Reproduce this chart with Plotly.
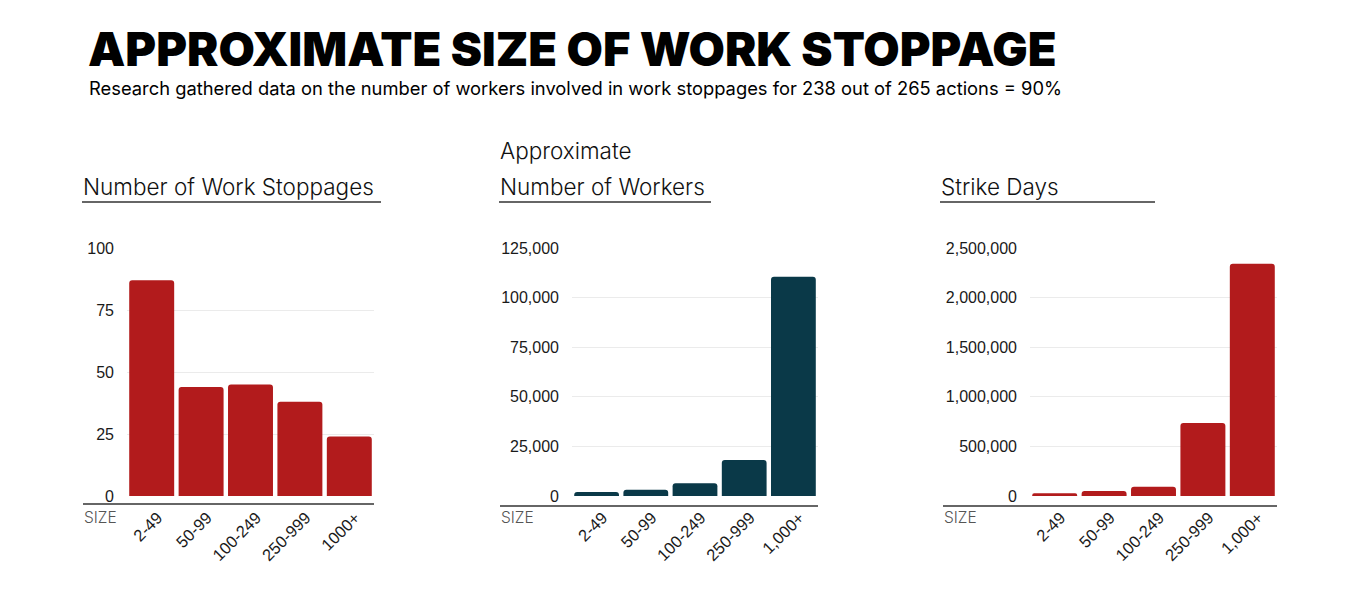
import plotly.graph_objects as go

W, H = 1360, 593

sizes_a = ["2-49", "50-99", "100-249", "250-999", "1000+"]
sizes_b = ["2-49", "50-99", "100-249", "250-999", "1,000+"]
stoppages = [87, 44, 45, 38, 24]
workers = [2000, 3200, 6400, 18200, 110500]
strike_days = [28000, 50000, 94000, 736000, 2341000]

title = "APPROXIMATE SIZE OF WORK STOPPAGE"
subtitle = "Research gathered data on the number of workers involved in work stoppages for 238 out of 265 actions = 90%"
panel_titles = [["Number of Work Stoppages"], ["Approximate", "Number of Workers"], ["Strike Days"]]

RED = "#b21b1c"
TEAL = "#0a3948"

def px(x):
    return x / W

def py(y):
    return 1 - y / H

panels = [
    dict(x0=127, x1=374, cats=sizes_a, vals=stoppages, color=RED, rng=[0, 100], dtick=25,
         line_x0=83, line_y=504, title_x0=82, title_x1=381),
    dict(x0=572, x1=818, cats=sizes_b, vals=workers, color=TEAL, rng=[0, 125000], dtick=25000,
         line_x0=500, line_y=506, title_x0=499, title_x1=711),
    dict(x0=1030, x1=1277, cats=sizes_b, vals=strike_days, color=RED, rng=[0, 2500000], dtick=500000,
         line_x0=943, line_y=506, title_x0=940, title_x1=1155),
]

fig = go.Figure()
shapes = []
annotations = []
ytick_font = dict(family="Liberation Sans, Arial, sans-serif", size=16, color="#1a1a1a")
xtick_font = dict(family="Liberation Sans, Arial, sans-serif", size=16.5, color="#1a1a1a")

for i, p in enumerate(panels):
    n = i + 1
    xa = "x" if n == 1 else f"x{n}"
    ya = "y" if n == 1 else f"y{n}"
    fig.add_trace(go.Bar(x=p["cats"], y=p["vals"], marker=dict(color=p["color"], cornerradius=3),
                         xaxis=xa, yaxis=ya, showlegend=False))
    xkey = "xaxis" if n == 1 else f"xaxis{n}"
    ykey = "yaxis" if n == 1 else f"yaxis{n}"
    fig.layout[xkey] = dict(domain=[px(p["x0"]), px(p["x1"])], anchor=ya, tickangle=-45,
                            tickfont=xtick_font, showgrid=False, showline=False, zeroline=False,
                            ticks="", fixedrange=True, automargin=False, ticklabelstandoff=8,
                            ticklabelshift=6)
    fig.layout[ykey] = dict(domain=[py(496), py(248)], anchor=xa, range=p["rng"], dtick=p["dtick"],
                            tickformat=",d", tickfont=ytick_font, showgrid=True, gridcolor="#ebebeb",
                            gridwidth=1, zeroline=False, showline=False, ticks="",
                            ticklabelstandoff=12, fixedrange=True, automargin=False)
    shapes.append(dict(type="line", xref="paper", yref="paper", x0=px(p["line_x0"]), x1=px(p["x1"]),
                       y0=py(p["line_y"]), y1=py(p["line_y"]), line=dict(color="#333", width=1.5)))
    shapes.append(dict(type="line", xref="paper", yref="paper", x0=px(p["title_x0"]), x1=px(p["title_x1"]),
                       y0=py(202), y1=py(202), line=dict(color="#333", width=1.5)))
    annotations.append(dict(text="SIZE", xref="paper", yref="paper", x=px(p["line_x0"] - 1), y=py(517),
                            xanchor="left", yanchor="middle", showarrow=False,
                            font=dict(family="Inter, sans-serif", size=15.5, color="#555", weight=300)))
    lines = panel_titles[i]
    for j, t in enumerate(lines):
        yy = 186 - (len(lines) - 1 - j) * 35
        annotations.append(dict(text=t, xref="paper", yref="paper", x=px(p["title_x0"] - 1), y=py(yy),
                                xanchor="left", yanchor="middle", showarrow=False,
                                font=dict(family="Inter, sans-serif", size=22.5, color="#111", weight=300)))

annotations.append(dict(text=title, xref="paper", yref="paper", x=px(86), y=py(48), xanchor="left",
                        yanchor="middle", showarrow=False,
                        font=dict(family="Inter, Roboto, sans-serif", size=47, color="#000", weight=900)))
annotations.append(dict(text=subtitle, xref="paper", yref="paper", x=px(87), y=py(88), xanchor="left",
                        yanchor="middle", showarrow=False,
                        font=dict(family="Inter, sans-serif", size=18.35, color="#000", weight=420)))

fig.update_layout(template="none", width=W, height=H, margin=dict(l=0, r=0, t=0, b=0),
                  paper_bgcolor="white", plot_bgcolor="white", bargap=0.09,
                  shapes=shapes, annotations=annotations)

fig.write_html("out.html")
